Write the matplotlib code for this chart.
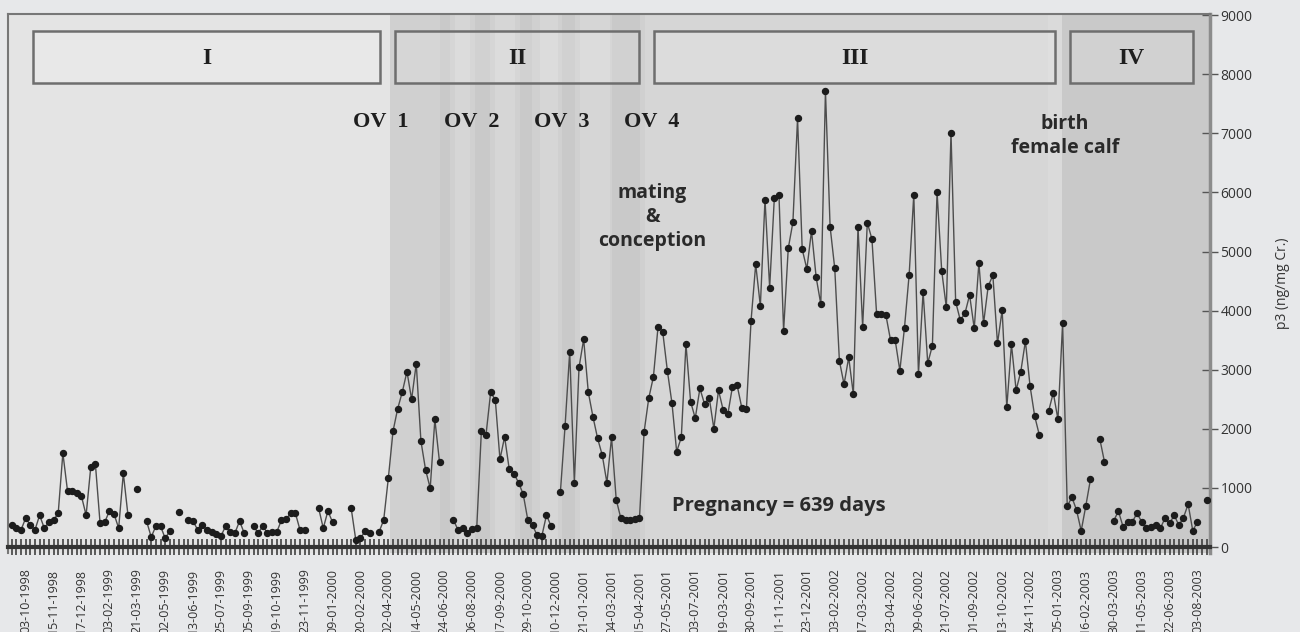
import numpy as np
import matplotlib.pyplot as plt
from matplotlib.patches import Rectangle

# sampling dates shown on the x axis (every 6th sample)
date_labels = ['03-10-1998', '15-11-1998', '17-12-1998', '03-02-1999', '21-03-1999',
               '02-05-1999', '13-06-1999', '25-07-1999', '05-09-1999', '19-10-1999',
               '23-11-1999', '09-01-2000', '20-02-2000', '02-04-2000', '14-05-2000',
               '24-06-2000', '06-08-2000', '17-09-2000', '29-10-2000', '10-12-2000',
               '21-01-2001', '04-03-2001', '15-04-2001', '27-05-2001', '03-07-2001',
               '19-03-2001', '30-09-2001', '11-11-2001', '23-12-2001', '03-02-2002',
               '17-03-2002', '23-04-2002', '09-06-2002', '21-07-2002', '01-09-2002',
               '13-10-2002', '24-11-2002', '05-01-2003', '16-02-2003', '30-03-2003',
               '11-05-2003', '22-06-2003', '03-08-2003']
label_start = 3
label_every = 6

# p3 (ng/mg Cr.) per sample, None = no value
p3 = [372, 320, 290, 490, 372, 290, 540, 320, 420, 455,
      575, 1590, 950, 950, 915, 860, 540, 1355, 1400, 405,
      420, 610, 560, 320, 1250, 540, None, 975, None, 440,
      170, 355, 355, 150, 270, None, 590, None, 455, 440,
      290, 372, 290, 255, 220, 186, 355, 255, 237, 440,
      237, None, 355, 237, 355, 237, 255, 255, 455, 470,
      575, 575, 290, 290, None, None, 660, 320, 610, 420,
      None, None, None, 660, 118, 150, 270, 237, None, 255,
      460, 1170, 1960, 2340, 2625, 2970, 2500, 3105, 1795, 1310,
      995, 2160, 1440, None, None, 455, 290, 315, 245, 300,
      315, 1960, 1900, 2620, 2490, 1485, 1865, 1315, 1245, 1090,
      895, 455, 370, 200, 185, 540, 355, None, 935, 2045,
      3305, 1090, 3040, 3515, 2620, 2205, 1840, 1555, 1090, 1855,
      805, 485, 455, 455, 470, 485, 1950, 2520, 2880, 3730,
      3645, 2985, 2430, 1615, 1855, 3435, 2460, 2180, 2685, 2420,
      2530, 2005, 2655, 2320, 2245, 2715, 2740, 2360, 2335, 3830,
      4785, 4080, 5880, 4390, 5900, 5965, 3660, 5055, 5495, 7255,
      5040, 4705, 5350, 4565, 4110, 7720, 5420, 4715, 3150, 2755,
      3210, 2585, 5420, 3730, 5490, 5210, 3945, 3945, 3925, 3500,
      3500, 2985, 3715, 4610, 5965, 2925, 4320, 3110, 3410, 6010,
      4675, 4055, 7010, 4150, 3840, 3955, 4265, 3700, 4810, 3785,
      4415, 4600, 3445, 4010, 2365, 3430, 2655, 2965, 3485, 2725,
      2215, 1895, None, 2305, 2610, 2160, 3785, 690, 845, 625,
      275, 700, 1150, None, 1830, 1445, None, 445, 610, 345,
      430, 430, 570, 430, 315, 335, 370, 315, 485, 400,
      540, 370, 500, 725, 275, 430, None, 805]

phase_names = ['I', 'II', 'III', 'IV']
phase_start = [4.6, 82.4, 138.1, 227.6]
phase_end = [79.2, 134.9, 224.4, 254.0]

ov_names = ['OV  1', 'OV  2', 'OV  3', 'OV  4']
ov_pos = [79.4, 99.0, 118.3, 137.7]

x = np.arange(len(p3))
y = np.array([np.nan if v is None else v for v in p3], dtype=float)

fig = plt.figure(figsize=(13, 6.32), dpi=100, facecolor='#e7e8ea')
ax = fig.add_axes([8/1300, 1 - 553/632, 1202/1300, 539/632])
ax.set_facecolor('#e4e4e4')
ax.set_xlim(-0.8, 257.7)
ax.set_ylim(-100, 9020)

# background shading (cycling, pregnancy, post partum)
ax.axvspan(81.4, 136.2, color='#d0d0d0', lw=0, zorder=0)
for a, b in [(95.3, 98.6), (104.0, 108.3), (113.6, 117.5), (122.2, 128.6)]:
    ax.axvspan(a, b, color='#d6d6d6', lw=0, zorder=0)
for a, b in [(92.1, 94.3), (99.6, 102.9), (109.3, 111.9), (118.3, 121.1), (129.1, 135.1)]:
    ax.axvspan(a, b, color='#c9c9c9', lw=0, zorder=0)
ax.axvspan(136.2, 225.9, color='#d6d6d6', lw=0, zorder=0)
ax.axvspan(222.8, 225.9, color='#dadada', lw=0, zorder=0)
ax.axvspan(225.9, 257.7, color='#c9c9c9', lw=0, zorder=0)

# phase boxes
for name, a, b in zip(phase_names, phase_start, phase_end):
    ax.add_patch(Rectangle((a, 7851), b - a, 880, facecolor='white', alpha=0.15,
                           edgecolor='none', zorder=1))
    ax.add_patch(Rectangle((a, 7851), b - a, 880, facecolor='none',
                           edgecolor='#6e6e6e', lw=1.8, zorder=2))
    ax.text((a + b) / 2, 8270, name, ha='center', va='center', fontsize=17,
            fontfamily='Liberation Serif', fontweight='bold', color='#1e1e1e')

for name, pos in zip(ov_names, ov_pos):
    ax.text(pos, 7190, name, ha='center', va='center', fontsize=16,
            fontfamily='Liberation Serif', fontweight='bold', color='#1e1e1e')

sans = ['Open Sans', 'DejaVu Sans']
ax.text(137.7, 5584, 'mating\n&\nconception', ha='center', va='center', fontsize=14,
        fontfamily=sans, fontweight='bold', color='#2a2a2a', linespacing=1.25)
ax.text(226.5, 6954, 'birth\nfemale calf', ha='center', va='center', fontsize=14,
        fontfamily=sans, fontweight='bold', color='#2a2a2a', linespacing=1.25)
ax.text(165.0, 694, 'Pregnancy = 639 days', ha='center', va='center', fontsize=14.5,
        fontfamily=sans, fontweight='bold', color='#2a2a2a')

# data
ax.plot(x, y, '-', color='#4d4d4d', lw=1.0, zorder=3)
ax.plot(x, y, 'o', color='#1c1c1c', ms=4.3, zorder=4)

# axes
for s in ['top', 'left']:
    ax.spines[s].set_color('#777777')
    ax.spines[s].set_linewidth(1.5)
ax.spines['right'].set_color('#8c8c8c')
ax.spines['right'].set_linewidth(2.5)
ax.spines['bottom'].set_position(('data', 0))
ax.spines['bottom'].set_color('#333333')
ax.spines['bottom'].set_linewidth(3)

ax.yaxis.tick_right()
ax.set_yticks(np.arange(0, 9001, 1000))
ax.tick_params(axis='y', direction='inout', length=11, width=1, color='#555555',
               labelsize=10, pad=2, labelcolor='#333333')
for t in ax.get_yticklabels():
    t.set_fontfamily(sans)

pos = [label_start + label_every * i for i in range(len(date_labels))]
ax.set_xticks(pos)
ax.set_xticklabels(date_labels, rotation=90, fontsize=9, fontfamily=sans, color='#333333')
ax.set_xticks(x, minor=True)
ax.tick_params(axis='x', which='both', direction='inout', length=11, width=1.1,
               color='#333333', pad=10)

fig.text(1282/1300, 1 - 283/632, 'p3 (ng/mg Cr.)', rotation=90, ha='center', va='center',
         fontsize=10, fontfamily=sans, color='#333333')

fig.savefig('out.png', dpi=100, facecolor=fig.get_facecolor())
